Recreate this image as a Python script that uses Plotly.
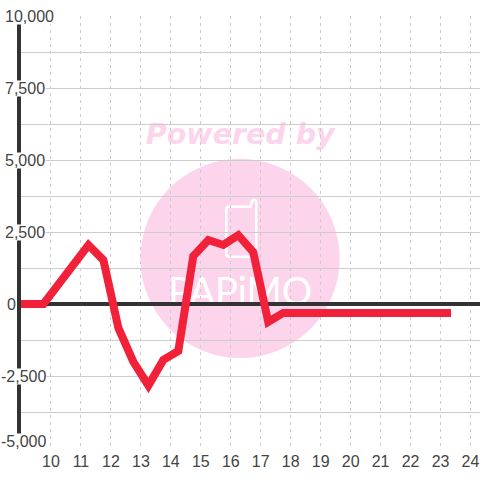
"""Hourly balance chart with a faint watermark behind the grid."""

import plotly.graph_objects as go

FONT = "Liberation Sans"
TEXT_COLOR = "#444444"
DARK = "#333333"
RED = "#F02138"
PINK = "#FCD5EC"
GRID = "#CCCCCC"

hours = [8.9, 9.75, 11.25, 11.75, 12.25, 12.75, 13.25, 13.75, 14.25, 14.75, 15.25, 15.75, 16.25, 16.75, 17.25, 17.75, 23.35]
values = [0, 0, 2050, 1525, -830, -2010, -2830, -1940, -1630, 1665, 2220, 2050, 2390, 1800, -625, -310, -310]

x_ticks = list(range(10, 25))
y_ticks = [10000, 7500, 5000, 2500, 0, -2500, -5000]
y_tick_labels = ["10,000", "7,500", "5,000", "2,500", "0", "-2,500", "-5,000"]
y_minor_ticks = [8750, 6250, 3750, 1250, -1250, -3750]

# pixel geometry of the 480x480 page
PLOT_LEFT, PLOT_TOP, PLOT_BOTTOM = 20.5, 16.0, 448.5
PLOT_W = 480 - PLOT_LEFT
PLOT_H = PLOT_BOTTOM - PLOT_TOP


def px_x(value: float) -> float:
    return (value - PLOT_LEFT) / PLOT_W


def px_y(value: float) -> float:
    return (PLOT_BOTTOM - value) / PLOT_H


fig = go.Figure()
fig.add_scatter(
    x=hours,
    y=values,
    mode="lines",
    line={"color": RED, "width": 8},
    cliponaxis=False,
    hoverinfo="skip",
)

# watermark: circle, phone outline and the two wordings, all under the grid
fig.add_shape(
    type="circle",
    xref="paper",
    yref="paper",
    x0=px_x(140),
    x1=px_x(339.5),
    y0=px_y(358.5),
    y1=px_y(159),
    fillcolor=PINK,
    line={"width": 0},
    layer="below",
)
fig.add_shape(
    type="path",
    xref="paper",
    yref="paper",
    path=(
        f"M {px_x(229)} {px_y(207)} L {px_x(250)} {px_y(207)} L {px_x(252)} {px_y(201)} "
        f"Q {px_x(256)} {px_y(198)} {px_x(256)} {px_y(203)} L {px_x(256)} {px_y(254)} "
        f"Q {px_x(256)} {px_y(257)} {px_x(253)} {px_y(257)} L {px_x(229)} {px_y(257)} "
        f"Q {px_x(226)} {px_y(257)} {px_x(226)} {px_y(254)} L {px_x(226)} {px_y(210)} "
        f"Q {px_x(226)} {px_y(207)} {px_x(229)} {px_y(207)} Z"
    ),
    line={"color": "white", "width": 2.5},
    layer="below",
)
fig.add_shape(
    type="rect",
    xref="paper",
    yref="paper",
    x0=px_x(130),
    x1=px_x(350),
    y0=px_y(148),
    y1=px_y(116),
    line={"width": 0},
    layer="below",
    label={
        "text": "<b><i>Powered by</i></b>",
        "font": {"family": "DejaVu Sans", "size": 28.5, "color": PINK},
        "textposition": "middle center",
    },
)
fig.add_shape(
    type="rect",
    xref="paper",
    yref="paper",
    x0=px_x(160),
    x1=px_x(320),
    y0=px_y(308),
    y1=px_y(272),
    line={"width": 0},
    layer="below",
    label={
        "text": "PAPiMO",
        "font": {"family": "Lato", "size": 38, "color": "white"},
        "textposition": "middle center",
    },
)

# the value labels sit on white boxes that break the axis and grid lines
label_left = [3, 3, 3, 3, 5, -1, -1]
label_shift = [0, 0, 0, 0, 0, 0, 7]
for tick, label, left, shift in zip(y_ticks, y_tick_labels, label_left, label_shift):
    fig.add_annotation(
        x=px_x(left),
        xref="paper",
        xanchor="left",
        y=tick,
        yref="y",
        yanchor="middle",
        yshift=shift,
        text=label,
        showarrow=False,
        bgcolor="white",
        borderpad=0,
        height=15,
        font={"family": FONT, "size": 16, "color": TEXT_COLOR},
    )

fig.update_layout(
    width=480,
    height=480,
    autosize=False,
    showlegend=False,
    paper_bgcolor="white",
    plot_bgcolor="white",
    margin={"l": PLOT_LEFT, "r": 0, "t": PLOT_TOP, "b": 480 - PLOT_BOTTOM, "pad": 0},
    font={"family": FONT, "size": 16, "color": TEXT_COLOR},
)
fig.update_xaxes(
    range=[9.0, 10 + (480 - 50.5) / 30],
    tickvals=x_ticks,
    ticktext=[str(t) for t in x_ticks],
    ticklen=0,
    ticklabelstandoff=2,
    showline=False,
    zeroline=False,
    showgrid=True,
    gridcolor=GRID,
    gridwidth=1,
    griddash="3px,4px",
    tickfont={"family": FONT, "size": 16, "color": TEXT_COLOR},
)
fig.update_yaxes(
    range=[-5000, 10000],
    tickvals=y_ticks,
    showticklabels=False,
    ticklen=0,
    showgrid=True,
    gridcolor=GRID,
    gridwidth=1,
    zeroline=True,
    zerolinecolor=DARK,
    zerolinewidth=3.5,
    showline=True,
    linecolor=DARK,
    linewidth=4,
    minor={"tickvals": y_minor_ticks, "showgrid": True, "gridcolor": GRID, "gridwidth": 1, "ticklen": 0},
)

# the page's default body margin would push the chart 8px off the window corner
fig.write_html(
    "out.html",
    config={"displayModeBar": False},
    post_script="document.body.style.margin = '0';",
)
